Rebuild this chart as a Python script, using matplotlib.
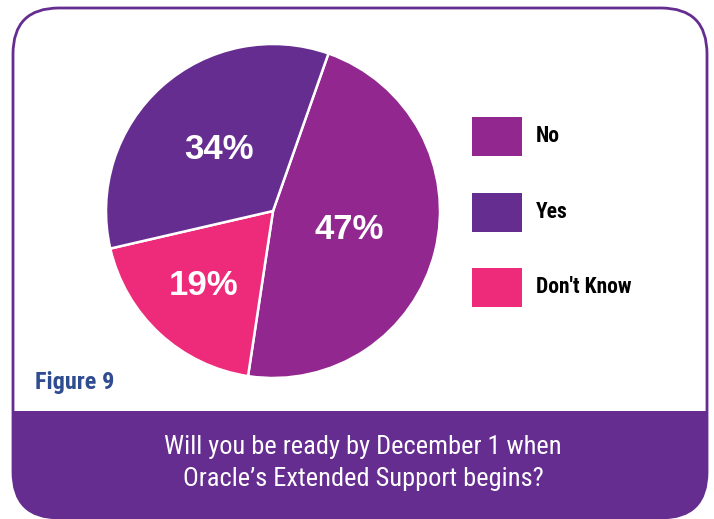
import numpy as np
import matplotlib.pyplot as plt
from matplotlib.patches import FancyBboxPatch, Rectangle

# survey answers, in drawing order (clockwise from the top)
answers = ['No', "Don't Know", 'Yes']
shares = [47, 19, 34]
slice_colors = ['#91278F', '#EE2A7B', '#652D90']

# legend order
legend_labels = ['No', 'Yes', "Don't Know"]
legend_colors = ['#91278F', '#652D90', '#EE2A7B']

fig_title = 'Figure 9'
question = "Will you be ready by December 1 when\nOracle\u2019s Extended Support begins?"

W, H = 714, 519
purple = '#652D90'
narrow = ['Roboto Condensed', 'DejaVu Sans']
bold_sans = ['Liberation Sans', 'DejaVu Sans']

fig = plt.figure(figsize=(W / 100, H / 100), dpi=100)
ax = fig.add_axes([0, 0, 1, 1])

# rounded frame with purple bottom band
frame = FancyBboxPatch((13, 1), 694, 510, boxstyle='round,pad=0,rounding_size=46',
                       facecolor='white', edgecolor=purple, linewidth=2, zorder=1)
ax.add_patch(frame)
band = Rectangle((0, 0), W, H - 411, facecolor=purple, edgecolor='none', zorder=2)
band.set_clip_path(frame)
ax.add_patch(band)

# pie
cx, cy, r = 273, H - 211, 167
wedges, _ = ax.pie(shares, colors=slice_colors, startangle=70.6, counterclock=False,
                   center=(cx, cy), radius=r,
                   wedgeprops=dict(edgecolor='white', linewidth=1.8))
for w in wedges:
    w.set_zorder(3)

# percentage labels inside the slices
label_dist = [0.47, 0.61, 0.49]
for w, v, d in zip(wedges, shares, label_dist):
    mid = np.deg2rad((w.theta1 + w.theta2) / 2)
    ax.text(cx + d * r * np.cos(mid), cy + d * r * np.sin(mid), f'{v}%',
            ha='center', va='center', color='white', fontsize=25,
            fontweight='bold', family=bold_sans, zorder=4)

# legend
for i, (lab, col) in enumerate(zip(legend_labels, legend_colors)):
    top = 117 + i * 75.5
    ax.add_patch(Rectangle((472, H - top - 39), 50, 39, facecolor=col,
                           edgecolor='none', zorder=3))
    ax.text(536, H - top - 19, lab, ha='left', va='center', fontsize=15.5,
            fontweight='bold', family=narrow, color='black', zorder=4)

ax.text(35, H - 383, fig_title, ha='left', va='center', fontsize=17.5,
        fontweight='bold', family=narrow, color='#2E4C8F', zorder=4)

ax.text(363, H - 463, question, ha='center', va='center', fontsize=19,
        family=narrow, color='white', linespacing=1.4, zorder=4)

ax.set_xlim(0, W)
ax.set_ylim(0, H)
ax.set_aspect('auto')
ax.axis('off')

fig.savefig('out.png', dpi=100)
